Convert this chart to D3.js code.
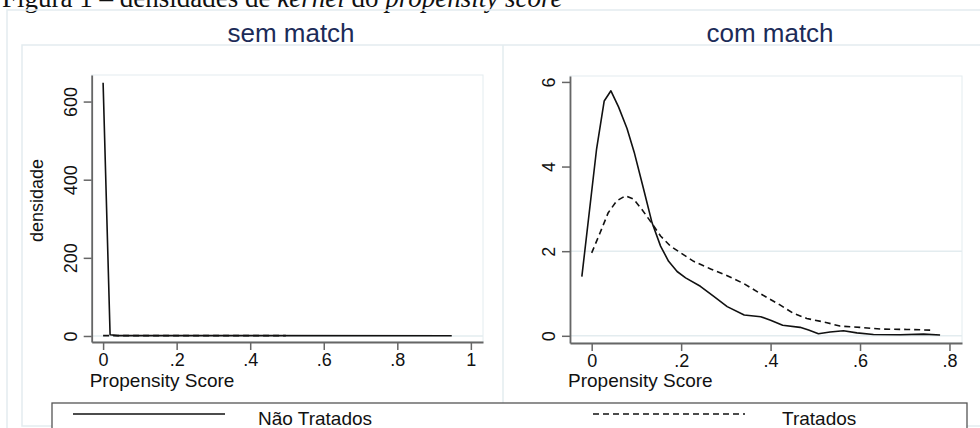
<!DOCTYPE html>
<html>
<head>
<meta charset="utf-8">
<script src="https://cdn.jsdelivr.net/npm/d3@7"></script>
<style>
  body { margin: 0; background: #fff; }
  svg { display: block; font-family: "Liberation Sans", Arial, sans-serif; }
</style>
</head>
<body>
<div id="chart"></div>
<script>
// Data
const panelTitles = ["sem match", "com match"];
const legendLabels = ["Não Tratados", "Tratados"];
const yTitle = "densidade";
const xTitle = "Propensity Score";

const semTicksY = [0, 200, 400, 600];
const semTicksX = [0, 0.2, 0.4, 0.6, 0.8, 1];
const semGrid = [0];
const comTicksY = [0, 2, 4, 6];
const comTicksX = [0, 0.2, 0.4, 0.6, 0.8];
const comGrid = [0, 2];

// sem match
const semNaoX = [0, 0.019, 0.04, 0.948];
const semNaoY = [648, 3, 1, 0.5];
const semTratX = [0, 0.497];
const semTratY = [1, 1];

// com match
const comNaoX = [-0.022, 0.011, 0.028, 0.043, 0.060, 0.079, 0.095, 0.116, 0.135, 0.154, 0.172, 0.191, 0.210, 0.243, 0.273, 0.303, 0.341, 0.378, 0.400, 0.427, 0.466, 0.485, 0.507, 0.533, 0.563, 0.593, 0.630, 0.690, 0.742, 0.779];
const comNaoY = [1.40, 4.42, 5.55, 5.79, 5.41, 4.90, 4.34, 3.47, 2.67, 2.12, 1.76, 1.52, 1.37, 1.17, 0.93, 0.69, 0.49, 0.45, 0.37, 0.25, 0.20, 0.135, 0.05, 0.09, 0.12, 0.07, 0.03, 0.025, 0.04, 0.02];
const comTratX = [0, 0.019, 0.037, 0.056, 0.076, 0.094, 0.112, 0.131, 0.154, 0.176, 0.199, 0.228, 0.266, 0.303, 0.341, 0.378, 0.421, 0.451, 0.481, 0.526, 0.555, 0.600, 0.645, 0.705, 0.757];
const comTratY = [1.96, 2.44, 2.91, 3.19, 3.31, 3.23, 2.99, 2.71, 2.36, 2.12, 1.96, 1.76, 1.58, 1.42, 1.23, 0.99, 0.73, 0.53, 0.41, 0.31, 0.23, 0.20, 0.16, 0.15, 0.135];

// Chart dimensions
const width = 980;
const height = 428;
const faint = "#e3ecef";
const axisColor = "#666";
const dash = "6,4";

const svg = d3.select("#chart")
    .append("svg")
    .attr("width", width)
    .attr("height", height);

// Caption (cut at top in the original)
const caption = svg.append("text")
    .attr("x", 2)
    .attr("y", 7)
    .style("font-family", "'Liberation Serif', 'Times New Roman', serif")
    .style("font-size", "27px")
    .attr("fill", "#111");
caption.append("tspan").text("Figura 1 – densidades de ");
caption.append("tspan").attr("font-style", "italic").text("kernel");
caption.append("tspan").text(" do ");
caption.append("tspan").attr("font-style", "italic").text("propensity score");

// Graph region outlines
svg.append("rect").attr("x", 7).attr("y", 10).attr("width", 990).attr("height", 440)
    .attr("fill", "none").attr("stroke", faint).attr("stroke-width", 1.5);
svg.append("rect").attr("x", 22).attr("y", 45).attr("width", 970).attr("height", 381)
    .attr("fill", "none").attr("stroke", faint).attr("stroke-width", 1.5);
svg.append("line").attr("x1", 503).attr("x2", 503).attr("y1", 45).attr("y2", 426)
    .attr("stroke", faint).attr("stroke-width", 1.5);

const fmt = (d) => (d === 0 ? "0" : d === 1 ? "1" : String(d).replace(/^0/, ""));

const panels = [
    {
        title: panelTitles[0], titleX: 291,
        x0: 91.7, x1: 483, y0: 75, y1: 342,
        xDom: [-0.031, 1.033], yDom: [-15.4, 668],
        ticksX: semTicksX, ticksY: semTicksY, grid: semGrid,
        series: [
            { xs: semNaoX, ys: semNaoY, dashed: false },
            { xs: semTratX, ys: semTratY, dashed: true }
        ],
        yTitle: yTitle
    },
    {
        title: panelTitles[1], titleX: 770,
        x0: 570, x1: 962, y0: 76, y1: 343,
        xDom: [-0.0485, 0.828], yDom: [-0.17, 6.14],
        ticksX: comTicksX, ticksY: comTicksY, grid: comGrid,
        series: [
            { xs: comNaoX, ys: comNaoY, dashed: false },
            { xs: comTratX, ys: comTratY, dashed: true }
        ],
        yTitle: null
    }
];

panels.forEach((p) => {
    const x = d3.scaleLinear().domain(p.xDom).range([p.x0, p.x1]);
    const y = d3.scaleLinear().domain(p.yDom).range([p.y1, p.y0]);

    // Title
    svg.append("text")
        .attr("x", p.titleX)
        .attr("y", 41.5)
        .attr("text-anchor", "middle")
        .style("font-size", "26px")
        .attr("fill", "#1c2b58")
        .text(p.title);

    // Plot region outline (faint)
    svg.append("rect")
        .attr("x", p.x0).attr("y", p.y0)
        .attr("width", p.x1 - p.x0).attr("height", p.y1 - p.y0)
        .attr("fill", "#fff").attr("stroke", faint).attr("stroke-width", 1);

    // Gridlines
    svg.append("g").selectAll("line")
        .data(p.grid)
        .join("line")
        .attr("x1", p.x0).attr("x2", p.x1)
        .attr("y1", (d) => y(d)).attr("y2", (d) => y(d))
        .attr("stroke", faint).attr("stroke-width", 1.5);

    // Curves
    const line = d3.line().x((d) => x(d[0])).y((d) => y(d[1]));
    p.series.forEach((s) => {
        svg.append("path")
            .datum(s.xs.map((v, i) => [v, s.ys[i]]))
            .attr("d", line)
            .attr("fill", "none")
            .attr("stroke", "#111")
            .attr("stroke-width", 1.6)
            .attr("stroke-linejoin", "round")
            .attr("stroke-dasharray", s.dashed ? dash : null);
    });

    // Y axis
    const gy = svg.append("g")
        .attr("transform", `translate(${p.x0},0)`)
        .call(d3.axisLeft(y).tickValues(p.ticksY).tickSize(8).tickSizeOuter(0).tickFormat(fmt));
    gy.selectAll("text")
        .attr("transform", "rotate(-90)")
        .attr("x", 0)
        .attr("y", -15)
        .attr("dy", 0)
        .attr("text-anchor", "middle");

    // X axis
    const gx = svg.append("g")
        .attr("transform", `translate(0,${p.y1})`)
        .call(d3.axisBottom(x).tickValues(p.ticksX).tickSize(8).tickSizeOuter(0).tickPadding(3).tickFormat(fmt));

    [gx, gy].forEach((g) => {
        g.select(".domain").attr("stroke", axisColor).attr("stroke-width", 1.8);
        g.selectAll(".tick line").attr("stroke", axisColor).attr("stroke-width", 1.5);
        g.selectAll("text")
            .style("font-size", "18px")
            .style("font-family", "'Liberation Sans', Arial, sans-serif")
            .attr("fill", "#111");
    });

    // X title
    svg.append("text")
        .attr("x", p.x0 - 2)
        .attr("y", 387)
        .style("font-size", "19px")
        .attr("fill", "#111")
        .text(xTitle);

    // Y title
    if (p.yTitle) {
        svg.append("text")
            .attr("transform", `translate(43,${(p.y0 + p.y1) / 2 - 8}) rotate(-90)`)
            .attr("text-anchor", "middle")
            .style("font-size", "18px")
            .attr("fill", "#111")
            .text(p.yTitle);
    }
});

// Legend
const legend = svg.append("g");
legend.append("rect")
    .attr("x", 52).attr("y", 403)
    .attr("width", 915).attr("height", 50)
    .attr("fill", "#fff")
    .attr("stroke", "#555").attr("stroke-width", 1.3);

const legendItems = [
    { label: legendLabels[0], lx: 73, tx: 258, dashed: false },
    { label: legendLabels[1], lx: 593, tx: 782, dashed: true }
];
legendItems.forEach((it) => {
    legend.append("line")
        .attr("x1", it.lx).attr("x2", it.lx + 152)
        .attr("y1", 414).attr("y2", 414)
        .attr("stroke", "#111").attr("stroke-width", 1.6)
        .attr("stroke-dasharray", it.dashed ? dash : null);
    legend.append("text")
        .attr("x", it.tx).attr("y", 425)
        .style("font-size", "19px")
        .attr("fill", "#111")
        .text(it.label);
});
</script>
</body>
</html>
